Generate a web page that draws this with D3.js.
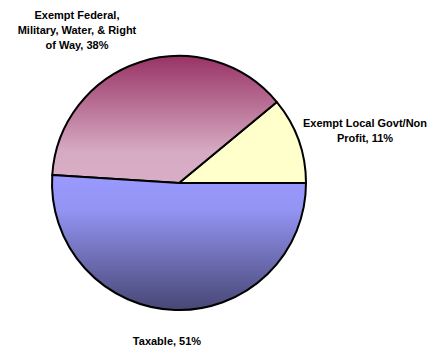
<!DOCTYPE html>
<html>
<head>
<meta charset="utf-8">
<script src="https://cdn.jsdelivr.net/npm/d3@7"></script>
<style>
  body { margin: 0; background: #fff; }
  svg { display: block; }
</style>
</head>
<body>
<script>
// Chart data
const categories = ["Exempt Local Govt/Non Profit", "Exempt Federal, Military, Water, & Right of Way", "Taxable"];
const shares = [11, 38, 51];
const labelLines = [
  ["Exempt Local Govt/Non", "Profit, 11%"],
  ["Exempt Federal,", "Military, Water, & Right", "of Way, 38%"],
  ["Taxable, 51%"]
];

const w = 433;
const h = 347;
const cx = 179;
const cy = 183;
const radius = 127;

const svg = d3.select("body")
  .append("svg")
  .attr("width", w)
  .attr("height", h);

// Gradients, one per slice (vertical)
const defs = svg.append("defs");
const gradStops = [
  [["0%", "#ffffcc"], ["100%", "#ffffcc"]],
  [["0%", "#993366"], ["75%", "#d6aac2"], ["100%", "#d8aec6"]],
  [["0%", "#9999ff"], ["25%", "#9494f4"], ["100%", "#474775"]]
];
gradStops.forEach((stops, i) => {
  const g = defs.append("linearGradient")
    .attr("id", "grad" + i)
    .attr("x1", 0).attr("y1", 0)
    .attr("x2", 0).attr("y2", 1);
  stops.forEach(s => g.append("stop").attr("offset", s[0]).attr("stop-color", s[1]));
});

// Pie goes counterclockwise from 3 o'clock
const pie = d3.pie()
  .sort(null)
  .startAngle(Math.PI / 2)
  .endAngle(Math.PI / 2 - 2 * Math.PI)
  .value(d => d);

const arc = d3.arc().innerRadius(0).outerRadius(radius);

svg.append("g")
  .attr("transform", `translate(${cx},${cy})`)
  .selectAll("path")
  .data(pie(shares))
  .enter()
  .append("path")
  .attr("d", arc)
  .attr("fill", (d, i) => `url(#grad${i})`)
  .attr("stroke", "#000")
  .attr("stroke-width", 2)
  .attr("stroke-linejoin", "round")
  .append("title")
  .text((d, i) => categories[i]);

// Labels
const labelPos = [
  { x: 365, y: 127 },
  { x: 77, y: 19 },
  { x: 167, y: 345 }
];
labelLines.forEach((lines, i) => {
  const t = svg.append("text")
    .attr("text-anchor", "middle")
    .style("font-family", "'Liberation Sans', Arial, sans-serif")
    .style("font-weight", "bold")
    .style("font-size", "11px")
    .attr("fill", "#000");
  lines.forEach((line, j) => {
    t.append("tspan")
      .attr("x", labelPos[i].x)
      .attr("y", labelPos[i].y + j * 15)
      .text(line);
  });
});
</script>
</body>
</html>
